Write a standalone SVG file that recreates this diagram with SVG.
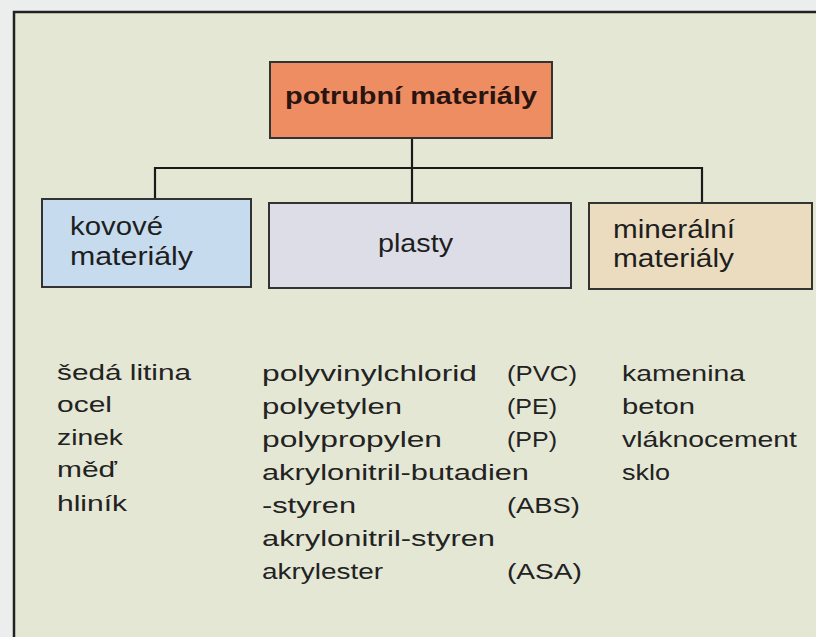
<svg xmlns="http://www.w3.org/2000/svg" width="816" height="637" viewBox="0 0 816 637">
<style>
.box{stroke:#333;stroke-width:2}
.t{font-family:"Liberation Sans",Arial,sans-serif;fill:#1e1e1e;font-size:25px}
.l{font-family:"Liberation Sans",Arial,sans-serif;fill:#222;font-size:22px}
.c{stroke:#1a1a1a;stroke-width:2.2;fill:none}
</style>
<rect x="0" y="0" width="816" height="637" fill="#eceeee"/>
<rect x="14" y="12" width="802" height="625" fill="#e5e7d5"/>
<path d="M14,637 V12 H816" fill="none" stroke="#222" stroke-width="2.5"/>

<g id="connectors">
  <path class="c" d="M412,138 V203"/>
  <path class="c" d="M155,199 V168 H702 V203"/>
</g>

<g id="root">
  <rect class="box" x="270" y="62" width="282" height="76" fill="#ee8c62"/>
  <text x="285" y="104" font-family="Liberation Sans,Arial,sans-serif" font-weight="bold" font-size="23" fill="#2a1410" textLength="252" lengthAdjust="spacingAndGlyphs">potrubní materiály</text>
</g>

<g id="kovove">
  <rect class="box" x="42" y="199" width="209" height="88" fill="#c6dbee"/>
  <text class="t" x="70" y="235" textLength="93" lengthAdjust="spacingAndGlyphs">kovové</text>
  <text class="t" x="70" y="265" textLength="123" lengthAdjust="spacingAndGlyphs">materiály</text>
</g>

<g id="plasty">
  <rect class="box" x="269" y="203" width="302" height="85" fill="#dcdde7"/>
  <text class="t" x="378" y="252" textLength="75" lengthAdjust="spacingAndGlyphs">plasty</text>
</g>

<g id="mineralni">
  <rect class="box" x="589" y="203" width="223" height="86" fill="#ebdcc0"/>
  <text class="t" x="613" y="238" textLength="122" lengthAdjust="spacingAndGlyphs">minerální</text>
  <text class="t" x="613" y="267" textLength="121" lengthAdjust="spacingAndGlyphs">materiály</text>
</g>

<g id="list-kovove">
  <text class="l" x="57" y="380" textLength="134" lengthAdjust="spacingAndGlyphs">šedá litina</text>
  <text class="l" x="57" y="412" textLength="55" lengthAdjust="spacingAndGlyphs">ocel</text>
  <text class="l" x="57" y="445" textLength="66" lengthAdjust="spacingAndGlyphs">zinek</text>
  <text class="l" x="57" y="477" textLength="60" lengthAdjust="spacingAndGlyphs">měď</text>
  <text class="l" x="57" y="511" textLength="70" lengthAdjust="spacingAndGlyphs">hliník</text>
</g>

<g id="list-plasty">
  <text class="l" x="262" y="381" textLength="215" lengthAdjust="spacingAndGlyphs">polyvinylchlorid</text>
  <text class="l" x="262" y="414" textLength="140" lengthAdjust="spacingAndGlyphs">polyetylen</text>
  <text class="l" x="262" y="447" textLength="180" lengthAdjust="spacingAndGlyphs">polypropylen</text>
  <text class="l" x="262" y="480" textLength="267" lengthAdjust="spacingAndGlyphs">akrylonitril-butadien</text>
  <text class="l" x="262" y="513" textLength="94" lengthAdjust="spacingAndGlyphs">-styren</text>
  <text class="l" x="262" y="546" textLength="233" lengthAdjust="spacingAndGlyphs">akrylonitril-styren</text>
  <text class="l" x="262" y="579" textLength="121" lengthAdjust="spacingAndGlyphs">akrylester</text>
  <text class="l" x="507" y="381" textLength="70" lengthAdjust="spacingAndGlyphs">(PVC)</text>
  <text class="l" x="507" y="414" textLength="50" lengthAdjust="spacingAndGlyphs">(PE)</text>
  <text class="l" x="507" y="447" textLength="50" lengthAdjust="spacingAndGlyphs">(PP)</text>
  <text class="l" x="507" y="513" textLength="73" lengthAdjust="spacingAndGlyphs">(ABS)</text>
  <text class="l" x="507" y="579" textLength="75" lengthAdjust="spacingAndGlyphs">(ASA)</text>
</g>

<g id="list-mineralni">
  <text class="l" x="622" y="381" textLength="123" lengthAdjust="spacingAndGlyphs">kamenina</text>
  <text class="l" x="622" y="414" textLength="73" lengthAdjust="spacingAndGlyphs">beton</text>
  <text class="l" x="622" y="447" textLength="175" lengthAdjust="spacingAndGlyphs">vláknocement</text>
  <text class="l" x="622" y="480" textLength="48" lengthAdjust="spacingAndGlyphs">sklo</text>
</g>
</svg>
